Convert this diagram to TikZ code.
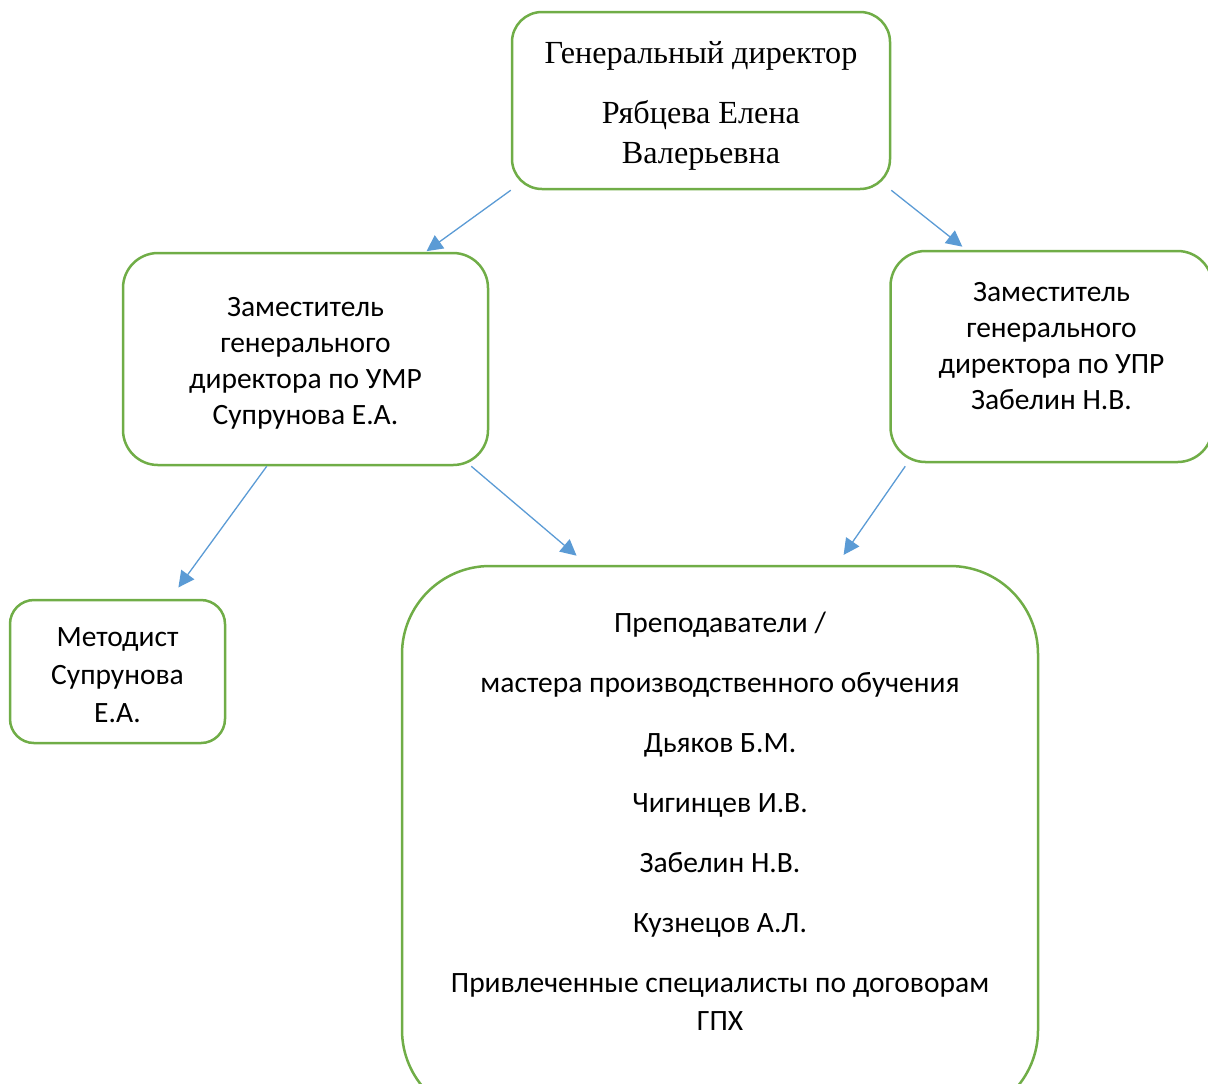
\documentclass[tikz,border=0pt]{standalone}
\usepackage{fontspec}
\setmainfont{Carlito}
\newfontfamily\timesfont{Liberation Serif}
\usetikzlibrary{arrows.meta,calc,positioning}
\definecolor{boxgreen}{HTML}{70AD47}
\definecolor{arrblue}{HTML}{5B9BD5}

\begin{document}
\begin{tikzpicture}[x=0.5pt,y=-0.5pt]
    \tikzstyle{block} = [ shape=rectangle, draw=boxgreen, line width=1.25pt, align=center, inner sep=0pt, font=\fontsize{14.75pt}{18pt}\selectfont ];
    \tikzstyle{arr} = [ -{Triangle[length=8pt,width=8pt]}, color=arrblue, line width=0.65pt ];

    \useasboundingbox (0,0) rectangle (1208,1083);

    \node (nGenDir) [block, minimum width=189pt, minimum height=88.5pt, rounded corners=15pt, font=\timesfont\fontsize{16.1pt}{20pt}\selectfont, text height=66pt] at (701,100.5) {Генеральный директор\\[10pt] Рябцева Елена\\ Валерьевна};
    \node (nZamUMR) [block, minimum width=182.5pt, minimum height=106pt, rounded corners=17.5pt, text height=67.5pt] at (305.5,359) {Заместитель\\ генерального\\ директора по УМР\\ Супрунова Е.А.};
    \node (nZamUPR) [block, minimum width=161pt, minimum height=105.5pt, rounded corners=17.5pt, text depth=11pt] at (1051.5,356.5) {Заместитель\\ генерального\\ директора по УПР\\ Забелин Н.В.};
    \node (nMetodist) [block, minimum width=107.5pt, minimum height=71.5pt, rounded corners=12pt, font=\fontsize{14.75pt}{19pt}\selectfont, text height=51.5pt] at (117.5,671.5) {Методист\\ Супрунова\\ Е.А.};
    \node (nTeachers) [block, minimum width=318pt, minimum height=276pt, rounded corners=44pt, font=\fontsize{14.75pt}{19pt}\selectfont, text depth=21pt] at (720,842) {Преподаватели /\\[11pt] мастера производственного обучения\\[11pt] Дьяков Б.М.\\[11pt] Чигинцев И.В.\\[11pt] Забелин Н.В.\\[11pt] Кузнецов А.Л.\\[11pt] Привлеченные специалисты по договорам\\ ГПХ};

    \draw [arr, shorten >= 0.5pt] (nGenDir.south west) -- ($(nZamUMR.north west)+(304,0)$);
    \draw [arr, shorten >= 2.5pt] (nGenDir.south east) -- ($(nZamUPR.north west)+(77,0)$);
    \draw [arr, shorten >= 7pt] ($(nZamUMR.south west)+(145,0)$) -- ($(nMetodist.north west)+(161.4,0)$);
    \draw [arr, shorten >= 7pt] ($(nZamUMR.south east)+(-18,0)$) -- ($(nTeachers.north west)+(186.5,0)$);
    \draw [arr, shorten >= 6pt] ($(nZamUPR.south west)+(16,3)$) -- ($(nTeachers.north west)+(436,0)$);
\end{tikzpicture}
\end{document}
